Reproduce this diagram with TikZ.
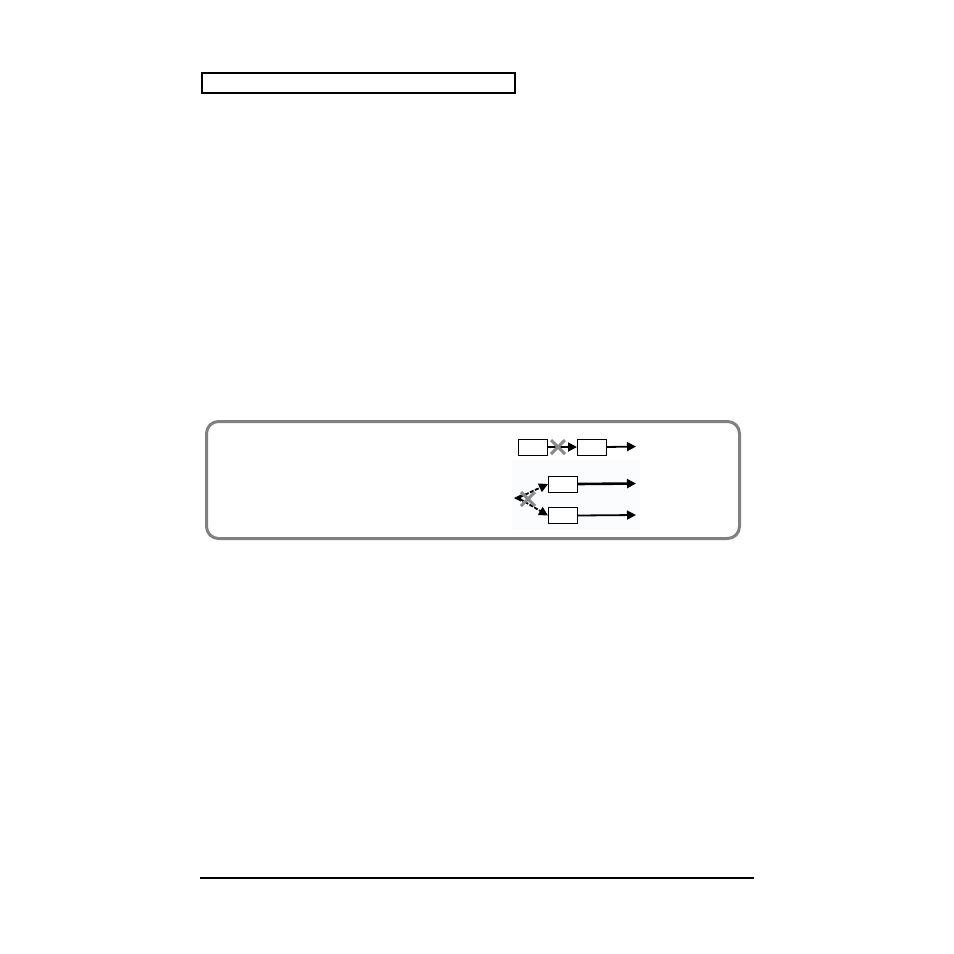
\documentclass[tikz,border=0pt]{standalone}
\usetikzlibrary{arrows.meta}
\definecolor{framegray}{HTML}{808080}
\definecolor{xgray}{HTML}{8A8A8A}
\definecolor{faintblue}{HTML}{FBFCFE}
\begin{document}
\begin{tikzpicture}[x=1pt,y=-1pt,
  blk/.style={draw=black,line width=1pt,fill=white,minimum width=29pt,minimum height=16pt,inner sep=0pt,anchor=north west},
  arr/.style={line width=1.8pt,-{Triangle[length=9pt,width=9pt]}},
  xmark/.style={draw=xgray,line width=3pt}]
\useasboundingbox (0,0) rectangle (954,954);
\fill[white] (0,0) rectangle (954,954);
% header box
\node[draw=black,line width=2pt,minimum width=313pt,minimum height=20pt,inner sep=0pt,anchor=north west] (hdr) at (201,72) {};
% frame
\draw[framegray,line width=3pt,rounded corners=12pt] (206.5,421.5) rectangle (739.5,538.5);
% faint background of the small diagram
\fill[faintblue] (512,460) rectangle (640,530);
% top row
\node[blk] (a1) at (518,438.5) {};
\node[blk] (a2) at (577,438.5) {};
\coordinate (a3) at (636,446.5);
\draw[arr] (a1.east) -- (a2.west);
\draw[arr] (a2.east) -- (a3);
\draw[xmark] (551,440) -- (565,454) (551,454) -- (565,440);
% lower rows
\node[blk] (b1) at (548,475.5) {};
\node[blk] (c1) at (548,507) {};
\coordinate (b2) at (636,483.5);
\coordinate (c2) at (636,515);
\coordinate (s) at (514,498);
\draw[arr,line width=2.6pt] (b1.east) -- (b2);
\draw[arr] (c1.east) -- (c2);
\draw[line width=1.8pt,dash pattern=on 4pt off 1.5pt,-{Triangle[length=9pt,width=9pt]}] (s) ++(6,-1) -- (b1.west);
\draw[line width=1.8pt,dash pattern=on 4pt off 1.5pt,-{Triangle[length=9pt,width=9pt]}] (s) ++(6,1) -- (c1.west);
\fill[black] (s) -- ++(7,-3.5) -- ++(0,7) -- cycle;
\draw[xmark] (521,492) -- (535,506) (521,506) -- (535,492);
% footer rule
\draw[black,line width=2pt] (200,878) -- (754,878);
\end{tikzpicture}
\end{document}
